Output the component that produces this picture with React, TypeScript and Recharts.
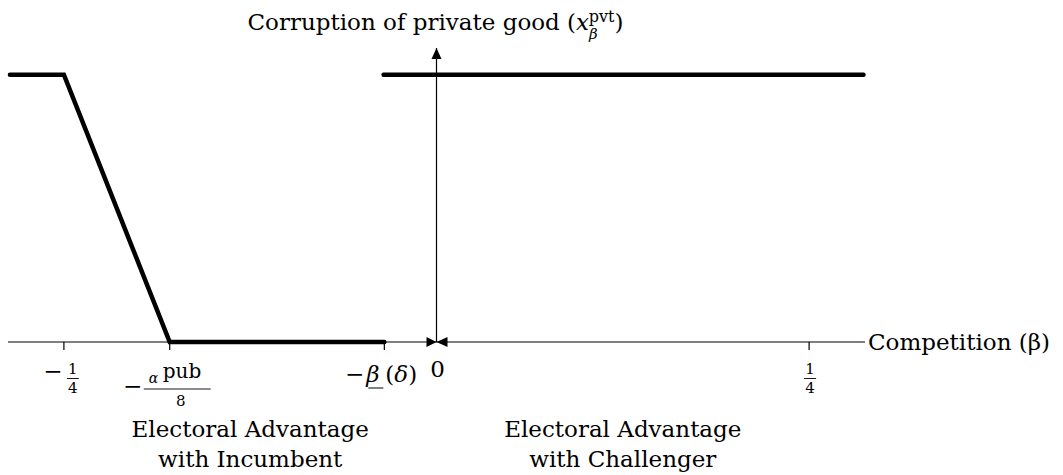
import { LineChart, Line, XAxis, YAxis, ReferenceLine, ReferenceDot } from "recharts";

// competition (beta) vs corruption of the private good
const incumbentBeta = [-0.2862, -0.25, -0.179, -0.035];
const incumbentCorruption = [1, 1, 0, 0];
const challengerBeta = [-0.0355, 0.2865];
const challengerCorruption = [1, 1];

const tickValues = [-0.25, -0.179, -0.035, 0, 0.25];
const tickLabels = ["-1/4", "-apub/8", "-beta(delta)", "0", "1/4"];

const regionCenters = [-0.125, 0.125];
const regionLines = [
  ["Electoral Advantage", "with Incumbent"],
  ["Electoral Advantage", "with Challenger"],
];

const xLabel = "Competition (β)";
const yLabel = "Corruption of private good (";

const FONT = "DejaVu Serif";
const FS = 23;
const W = 1063;
const H = 475;

const incumbentData = incumbentBeta.map((b, i) => ({ beta: b, x: incumbentCorruption[i] }));
const challengerData = challengerBeta.map((b, i) => ({ beta: b, x: challengerCorruption[i] }));

function Frac({ cx, top, num, den }: { cx: number; top: number; num: string; den: string }) {
  return (
    <g>
      <text x={cx} y={top + 33} textAnchor="middle" fontSize={15}>{num}</text>
      <line x1={cx - 6} x2={cx + 6} y1={top + 37.5} y2={top + 37.5} stroke="#000" strokeWidth={0.9} />
      <text x={cx} y={top + 52} textAnchor="middle" fontSize={15}>{den}</text>
    </g>
  );
}

function AxisTick(props: any) {
  const { x, y, payload } = props;
  const label = tickLabels[tickValues.indexOf(payload.value)];
  let body: any = null;
  if (label === "-1/4") {
    body = (
      <g>
        <text x={x - 11} y={y + 37} textAnchor="middle" fontSize={FS}>−</text>
        <Frac cx={x + 9} top={y - 1} num="1" den="4" />
      </g>
    );
  } else if (label === "1/4") {
    body = <Frac cx={x + 1} top={y - 1} num="1" den="4" />;
  } else if (label === "-apub/8") {
    body = (
      <g>
        <text x={x - 37} y={y + 52} textAnchor="middle" fontSize={FS}>−</text>
        <text x={x - 21} y={y + 41} fontSize={14} fontStyle="italic">α</text>
        <text x={x - 7} y={y + 36} fontSize={20}>pub</text>
        <line x1={x - 26} x2={x + 41} y1={y + 47} y2={y + 47} stroke="#000" strokeWidth={0.9} />
        <text x={x + 11} y={y + 64} textAnchor="middle" fontSize={15}>8</text>
      </g>
    );
  } else if (label === "-beta(delta)") {
    body = (
      <g>
        <text x={x - 20} y={y + 40} textAnchor="end" fontSize={FS}>−</text>
        <text x={x - 18} y={y + 40} fontSize={FS} fontStyle="italic">β</text>
        <line x1={x - 16} x2={x - 1} y1={y + 46} y2={y + 46} stroke="#000" strokeWidth={1} />
        <text x={x + 1} y={y + 40} fontSize={FS}>
          (<tspan fontStyle="italic">δ</tspan>)
        </text>
      </g>
    );
  } else {
    body = <text x={x + 1} y={y + 35} textAnchor="middle" fontSize={FS}>{label}</text>;
  }
  return (
    <g fontFamily={FONT} fill="#000">
      {label !== "0" && <line x1={x} x2={x} y1={y} y2={y + 8} stroke="#000" strokeWidth={1.2} />}
      {body}
    </g>
  );
}

export default function App() {
  return (
    <div style={{ position: "absolute", left: 0, top: 0, width: W, height: H, background: "#fff" }}>
      <LineChart width={W} height={H} margin={{ top: 48, right: 198, bottom: 132, left: 8 }}>
        <XAxis
          type="number"
          dataKey="beta"
          domain={[-0.2875, 0.2875]}
          ticks={tickValues}
          interval={0}
          height={1}
          tickSize={0}
          tickMargin={0}
          tickLine={false}
          axisLine={{ stroke: "#000", strokeWidth: 1.2 }}
          tick={<AxisTick />}
        />
        <YAxis type="number" domain={[0, 1.1]} hide />
        <ReferenceLine x={0} stroke="#000" strokeWidth={1.2} />
        <Line
          data={incumbentData}
          dataKey="x"
          type="linear"
          stroke="#000"
          strokeWidth={4.5}
          strokeLinecap="round"
          strokeLinejoin="miter"
          dot={false}
          activeDot={false}
          isAnimationActive={false}
        />
        <Line
          data={challengerData}
          dataKey="x"
          type="linear"
          stroke="#000"
          strokeWidth={4.5}
          strokeLinecap="round"
          dot={false}
          activeDot={false}
          isAnimationActive={false}
        />
        {/* arrowheads meeting at the origin */}
        <ReferenceDot
          x={0}
          y={0}
          r={0}
          shape={(p: any) => (
            <g fill="#000">
              <path d={`M${p.cx},${p.cy} L${p.cx - 10},${p.cy - 5} L${p.cx - 10},${p.cy + 5} Z`} />
              <path d={`M${p.cx},${p.cy} L${p.cx + 11},${p.cy - 5} L${p.cx + 11},${p.cy + 5} Z`} />
            </g>
          )}
        />
        {/* y axis arrow + title */}
        <ReferenceDot
          x={0}
          y={1.1}
          r={0}
          shape={(p: any) => (
            <g>
              <path d={`M${p.cx},${p.cy} L${p.cx - 5},${p.cy + 11} L${p.cx + 5},${p.cy + 11} Z`} fill="#000" />
              <text x={p.cx - 1} y={p.cy - 18} textAnchor="middle" fontFamily={FONT} fontSize={FS} fill="#000">
                {yLabel}
                <tspan fontStyle="italic">x</tspan>
                <tspan fontStyle="italic" fontSize={15} dy={9}>β</tspan>
                <tspan fontSize={16} dx={-9} dy={-17}>pvt</tspan>
                <tspan dy={8}>)</tspan>
              </text>
            </g>
          )}
        />
        <ReferenceDot
          x={0.2875}
          y={0}
          r={0}
          shape={(p: any) => (
            <text x={p.cx + 3} y={p.cy + 8} fontFamily={FONT} fontSize={FS} fill="#000">
              {xLabel}
            </text>
          )}
        />
        {regionCenters.map((b, i) => (
          <ReferenceDot
            key={i}
            x={b}
            y={0}
            r={0}
            shape={(p: any) => (
              <g fontFamily={FONT} fontSize={FS} fill="#000" textAnchor="middle">
                <text x={p.cx} y={p.cy + 95}>{regionLines[i][0]}</text>
                <text x={p.cx} y={p.cy + 125}>{regionLines[i][1]}</text>
              </g>
            )}
          />
        ))}
      </LineChart>
    </div>
  );
}
